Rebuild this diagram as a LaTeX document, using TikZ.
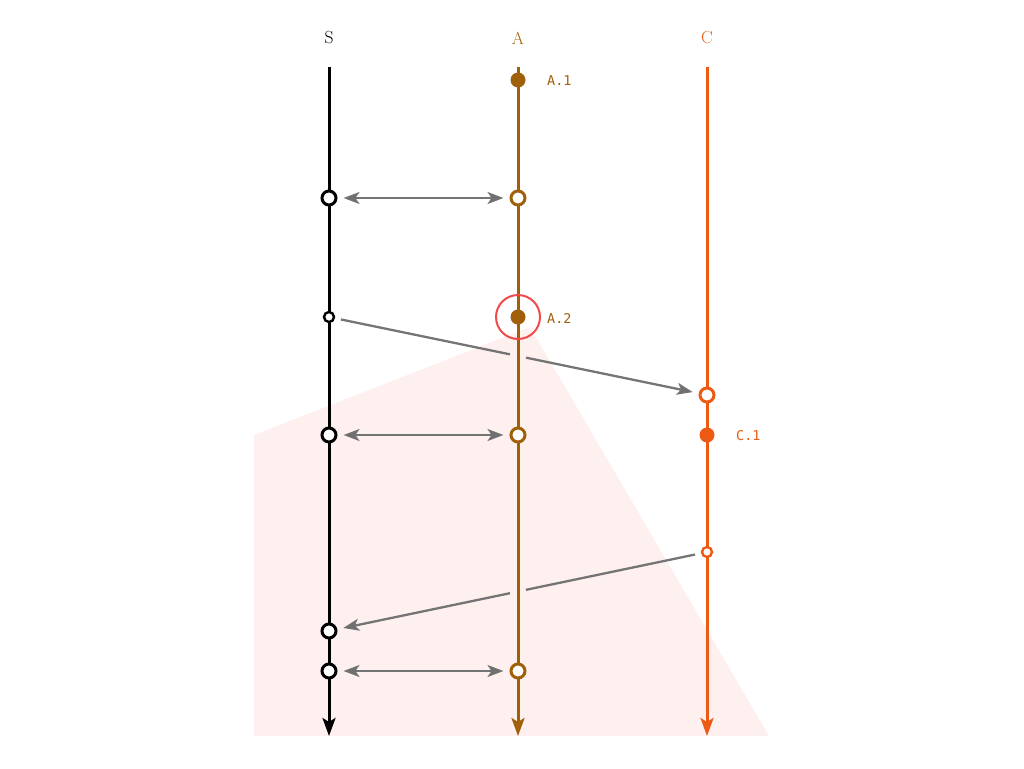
\documentclass[tikz,border=0pt]{standalone}
\usepackage{fontspec}
\newfontfamily\evfont{DejaVu Sans Mono}
\usetikzlibrary{arrows.meta, calc}
\definecolor{scol}{HTML}{000000}
\definecolor{acol}{HTML}{A0600A}
\definecolor{ccol}{HTML}{EC5A13}
\definecolor{msgcol}{HTML}{6E6E6E}
\definecolor{hilite}{HTML}{F24A4A}
\definecolor{pinkbg}{HTML}{FFF0F0}
\pgfdeclarelayer{shadelayer}
\pgfdeclarelayer{msglayer}
\pgfdeclarelayer{lifelayer}
\pgfsetlayers{shadelayer,msglayer,lifelayer,main}

\begin{document}
\begin{tikzpicture}[x=1pt, y=-1pt,
  life/.style={line width=3pt, -{Stealth[length=18pt, width=13pt, inset=4pt]}},
  opendot/.style={circle, draw, fill=white, line width=3pt, inner sep=0pt, minimum size=14pt},
  smalldot/.style={circle, draw, fill=white, line width=2.4pt, inner sep=0pt, minimum size=10pt},
  fulldot/.style={circle, inner sep=0pt, minimum size=15pt},
  msg/.style={msgcol, line width=2.3pt, opacity=0.95, shorten <=6pt, shorten >=6pt,
    >={Stealth[length=16pt, width=12pt, inset=4pt]}},
  evlabel/.style={anchor=west, font=\evfont\fontsize{13.5}{15}\selectfont},
  title/.style={font=\fontsize{17.5}{20}\selectfont}]
\useasboundingbox (0,0) rectangle (1024,768);

% shaded region
\begin{pgfonlayer}{shadelayer}
\fill[pinkbg] (254,435) -- (530,327) -- (769,736) -- (254,736) -- cycle;
\end{pgfonlayer}

% processes
\node[title, text=scol] (stitle) at (329,38) {S};
\node[title, text=acol] (atitle) at (518,38) {A};
\node[title, text=ccol] (ctitle) at (707,38) {C};
\coordinate (stop) at (329,67);
\coordinate (sbot) at (329,736);
\coordinate (atop) at (518,67);
\coordinate (abot) at (518,736);
\coordinate (ctop) at (707,67);
\coordinate (cbot) at (707,736);
\begin{pgfonlayer}{lifelayer}
\draw[life, scol] (stop) -- (sbot);
\draw[life, acol] (atop) -- (abot);
\draw[life, ccol] (ctop) -- (cbot);
\end{pgfonlayer}

% events on S
\node[opendot, draw=scol] (s1) at (329,198) {};
\node[smalldot, draw=scol] (s2) at (329,317) {};
\node[opendot, draw=scol] (s3) at (329,435) {};
\node[opendot, draw=scol] (s4) at (329,631) {};
\node[opendot, draw=scol] (s5) at (329,671) {};

% events on A
\node[fulldot, fill=acol] (a1) at (518,80) {};
\node[opendot, draw=acol] (a2) at (518,198) {};
\node[fulldot, fill=acol] (a3) at (518,317) {};
\node[opendot, draw=acol] (a4) at (518,435) {};
\node[opendot, draw=acol] (a5) at (518,671) {};
\draw[hilite, line width=2pt] (a3) circle (22pt);
\node[evlabel, text=acol, inner sep=0pt] (a1lab) at (547,81) {A.1};
\node[evlabel, text=acol, inner sep=0pt] (a3lab) at (547,318) {A.2};

% events on C
\node[opendot, draw=ccol] (c1) at (707,395) {};
\node[fulldot, fill=ccol] (c2) at (707,435) {};
\node[smalldot, draw=ccol] (c3) at (707,552) {};
\node[evlabel, text=ccol, inner sep=0pt] (c2lab) at (736,436) {C.1};

% messages, with a gap where they pass behind A
\begin{pgfonlayer}{msglayer}
\draw[msg, <->] (s1) -- (a2);
\draw[msg, ->] (s2) -- (c1);
\draw[msg, <->] (s3) -- (a4);
\draw[msg, ->] (c3) -- (s4);
\draw[msg, <->] (s5) -- (a5);
\coordinate (x1) at (intersection of s2--c1 and atop--abot);
\coordinate (x2) at (intersection of c3--s4 and atop--abot);
\draw[pinkbg, line width=4pt] ($(x1)!8pt!(s2)$) -- ($(x1)!8pt!(c1)$);
\draw[pinkbg, line width=4pt] ($(x2)!8pt!(s4)$) -- ($(x2)!8pt!(c3)$);
\end{pgfonlayer}
\end{tikzpicture}
\end{document}
